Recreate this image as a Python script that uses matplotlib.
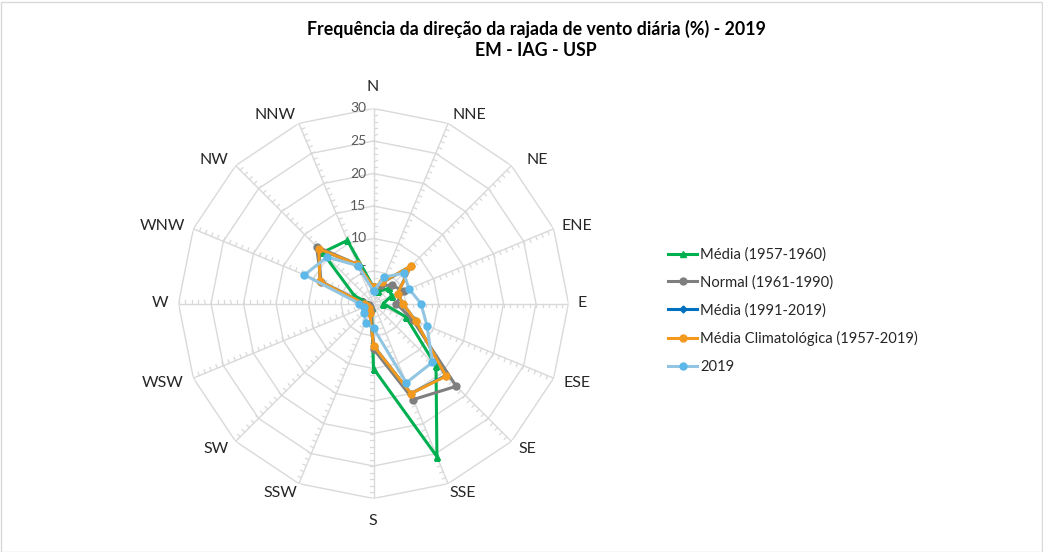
import numpy as np
import matplotlib
matplotlib.use("Agg")
import matplotlib.pyplot as plt
from matplotlib.patches import Rectangle

plt.rcParams['font.family'] = ['Lato', 'DejaVu Sans']

directions = ["N", "NNE", "NE", "ENE", "E", "ESE", "SE", "SSE",
              "S", "SSW", "SW", "WSW", "W", "WNW", "NW", "NNW"]

media_1957_1960 = [2.5, 2.0, 3.3, 3.0, 1.5, 5.4, 13.6, 25.5,
                   10.0, 0.8, 0.5, 0.5, 0.8, 3.2, 11.1, 10.5]
normal_1961_1990 = [2.5, 3.0, 4.0, 5.0, 3.5, 6.5, 18.0, 16.0,
                    7.0, 1.0, 0.7, 0.8, 1.5, 8.7, 12.4, 6.5]
media_1991_2019 = [2.4, 3.5, 8.1, 4.0, 4.5, 7.0, 15.7, 15.0,
                   6.5, 1.5, 1.0, 1.0, 1.5, 8.9, 11.8, 6.5]
media_climatologica = [2.5, 3.5, 8.2, 4.0, 4.5, 7.0, 15.8, 15.0,
                       6.5, 1.5, 1.0, 1.0, 1.5, 8.9, 11.9, 6.5]
ano_2019 = [1.9, 4.4, 6.6, 5.9, 7.3, 8.9, 12.8, 13.2,
            3.8, 3.2, 2.0, 1.5, 2.2, 11.5, 10.1, 6.3]

series_labels = ["Média (1957-1960)", "Normal (1961-1990)", "Média (1991-2019)",
                 "Média Climatológica (1957-2019)", "2019"]
radial_ticks = [0, 5, 10, 15, 20, 25, 30]

W, H = 1043, 552
fig = plt.figure(figsize=(W / 100, H / 100), dpi=100)
fig.patch.set_facecolor("white")
fig.add_artist(Rectangle((0.5 / W, 0.5 / H), 1 - 2 / W, 1 - 2 / H,
                         transform=fig.transFigure, fill=False,
                         edgecolor="#D9D9D9", lw=1))

cx, cy, R = 373.5, 303.5, 195.0
ax = fig.add_axes([(cx - R) / W, (H - cy - R) / H, 2 * R / W, 2 * R / H],
                  projection="polar")
ax.set_theta_zero_location("N")
ax.set_theta_direction(-1)
ax.set_ylim(0, 30)
ax.grid(False)
ax.set_xticks([])
ax.set_yticks([])
ax.spines["polar"].set_visible(False)
ax.patch.set_alpha(0)

n = len(directions)
theta = np.deg2rad(np.arange(n) * 360.0 / n)
theta_c = np.append(theta, theta[0])

gridc = "#D9D9D9"
for r in radial_ticks[1:]:
    ax.plot(theta_c, [r] * (n + 1), color=gridc, lw=1.0, zorder=1)
for t in theta:
    ax.plot([t, t], [0, 30], color=gridc, lw=1.0, zorder=1)
h = 0.55
for t in theta:
    for r in range(1, 31):
        ax.plot([t, t + np.arctan(h / r)], [r, np.hypot(r, h)],
                color=gridc, lw=0.9, zorder=1)

for r in radial_ticks:
    ax.annotate(str(r), xy=(0, r), xytext=(-5, 0), textcoords="offset points",
                ha="right", va="center", fontsize=10, color="#595959", zorder=2)

# direction label centres (pixels, layout only)
label_pos = [(373, 87), (469, 115), (537, 160), (577, 226), (582, 303),
             (577, 383), (527, 449), (463, 493), (373, 521), (280, 493),
             (216, 449), (163, 383), (160, 303), (162, 226), (214, 160),
             (275, 115)]
for (px, py), d in zip(label_pos, directions):
    fig.text(px / W, 1 - py / H, d, ha="center", va="center", fontsize=11.5,
             color="#262626")

styles = [
    (media_1957_1960, "#00B050", "^", 5, "#00B050"),
    (normal_1961_1990, "#7F7F7F", "o", 5, "#7F7F7F"),
    (media_1991_2019, "#0070C0", "D", 3.5, "#0070C0"),
    (media_climatologica, "#F39A1E", "o", 5, "#F39A1E"),
    (ano_2019, "#92C5E2", "o", 5, "#5BB8E8"),
]
handles = []
for (vals, col, mk, ms, mfc), lab in zip(styles, series_labels):
    v = np.append(vals, vals[0])
    ln, = ax.plot(theta_c, v, color=col, lw=2.2, marker=mk, markersize=ms,
                  markerfacecolor=mfc, markeredgecolor=mfc, label=lab, zorder=3)
    handles.append(ln)

leg = fig.legend(handles=handles, loc="upper left",
                 bbox_to_anchor=(662 / W, 1 - 241.5 / H), frameon=False,
                 fontsize=10.6, handlelength=2.0, handletextpad=0.2,
                 labelspacing=0.92, borderaxespad=0)
for txt in leg.get_texts():
    txt.set_color("#262626")

fig.text(536 / W, 1 - 29 / H, "Frequência da direção da rajada de vento diária (%) - 2019",
         ha="center", va="center", fontsize=12.8, fontweight="bold", color="#000000")
fig.text(536 / W, 1 - 51 / H, "EM - IAG - USP",
         ha="center", va="center", fontsize=12.8, fontweight="bold", color="#000000")

fig.savefig("out.png", dpi=100, facecolor="white")
